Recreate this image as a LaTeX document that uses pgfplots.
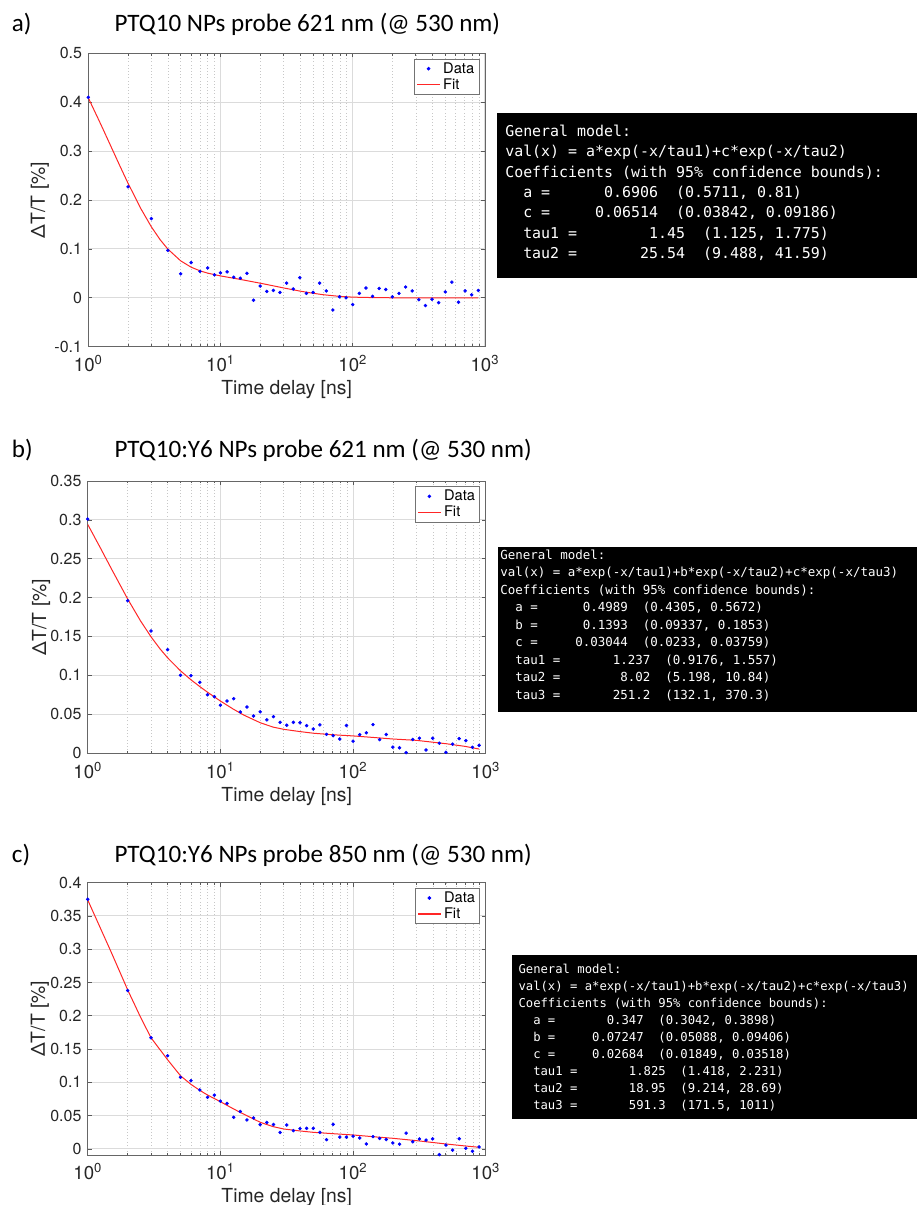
\documentclass[border=0pt]{standalone}
\usepackage{fontspec}
\setmainfont{TeX Gyre Heros}
\newfontfamily\titlefont{Carlito}
\newfontfamily\mono{DejaVu Sans Mono}
\usepackage{pgfplots}
\pgfplotsset{compat=1.18}
\definecolor{fitred}{rgb}{1,0.15,0.15}

\pgfplotsset{
    scale only axis,
    tick align=inside,
    major tick length=3pt,
    minor tick length=1.8pt,
    tick style={black!65, line width=0.5pt},
    axis line style={black!60, line width=0.6pt},
    xmajorgrids=true, ymajorgrids=true, xminorgrids=true,
    major grid style={black!14, line width=0.7pt},
    minor grid style={black!22, dotted, line width=0.4pt},
    /pgf/number format/assume math mode=true,
}
\pgfplotsset{
    xticklabel style={font=\fontsize{14}{14}\selectfont, text=black!85, anchor=base, yshift=-18.75pt, inner sep=0pt},
    yticklabel style={font=\fontsize{12}{12}\selectfont, text=black!85, anchor=east, xshift=-4.5pt, inner sep=0pt},
    label style={font=\fontsize{14.5}{14.5}\selectfont, text=black!85},
    xlabel style={at={(axis description cs:0.5,0)}, anchor=base, yshift=-36pt},
    legend style={at={(axis description cs:1,1)}, anchor=north east, xshift=-4.3pt, yshift=-4pt,
      draw=black!55, line width=0.5pt, fill=white, font=\fontsize{11}{11}\selectfont,
      inner xsep=1.5pt, inner ysep=0.5pt, row sep=-1.5pt},
    legend cell align=left,
}

\newcommand{\tline}[3]{\node[anchor=base west,inner sep=0pt,text=white,font=\mono\frenchspacing\fontsize{#1}{#1}\selectfont] at #2 {#3};}
\newcommand{\mylegend}{%
  \addlegendimage{only marks, mark=*, mark size=1.1pt, blue, mark options={draw=blue, fill=blue}}
  \addlegendentry{Data}
  \addlegendimage{draw=fitred, line width=0.9pt, no marks}
  \addlegendentry{Fit}}

\begin{document}
\begin{tikzpicture}
\useasboundingbox (0,0) rectangle (687.75pt,-903.75pt);

% ---------- titles ----------
\node[anchor=base west,inner sep=0pt,font=\titlefont\fontsize{18.8}{18.8}\selectfont] at (8.75pt,-23.75pt) {a)};
\node[anchor=base west,inner sep=0pt,font=\titlefont\fontsize{18.8}{18.8}\selectfont] at (85.75pt,-23.75pt) {PTQ10 NPs probe 621 nm (@ 530 nm)};
\node[anchor=base west,inner sep=0pt,font=\titlefont\fontsize{18.8}{18.8}\selectfont] at (8.75pt,-343pt) {b)};
\node[anchor=base west,inner sep=0pt,font=\titlefont\fontsize{18.8}{18.8}\selectfont] at (85.75pt,-343pt) {PTQ10:Y6 NPs probe 621 nm (@ 530 nm)};
\node[anchor=base west,inner sep=0pt,font=\titlefont\fontsize{18.8}{18.8}\selectfont] at (8.75pt,-646.7pt) {c)};
\node[anchor=base west,inner sep=0pt,font=\titlefont\fontsize{18.8}{18.8}\selectfont] at (85.75pt,-646.7pt) {PTQ10:Y6 NPs probe 850 nm (@ 530 nm)};

% ---------- axis a ----------
\begin{axis}[xmode=log, xmin=1, xmax=1000, xtick={1,10,100,1000},
  xticklabels={10\textsuperscript{0},10\textsuperscript{1},10\textsuperscript{2},10\textsuperscript{3}},
  at={(66.2pt,-40pt)}, anchor=north west, width=297.5pt, height=220pt,
  ymin=-0.1, ymax=0.5, ytick={-0.1,0,0.1,0.2,0.3,0.4,0.5},
  yticklabels={-0.1,0,0.1,0.2,0.3,0.4,0.5},
  xlabel={Time delay [ns]}, ylabel={ΔT/T [\%]},
  ylabel style={at={(axis description cs:-0.122,0.5)}, anchor=center}]
\mylegend
\addplot[forget plot, only marks, mark=*, mark size=1.1pt, blue, mark options={draw=blue, fill=blue}] coordinates {
(1,0.410) (2,0.227) (3,0.162) (4,0.097) (5,0.049) (6,0.072) (7,0.054) (8,0.061) (9,0.047) (10,0.051)
(11.22,0.053) (12.59,0.042) (14.13,0.040) (15.85,0.050) (17.78,-0.005) (19.95,0.024) (22.39,0.013)
(25.12,0.015) (28.18,0.011) (31.62,0.030) (35.48,0.018) (39.81,0.041) (44.67,0.009) (50.12,0.011)
(56.23,0.030) (63.10,0.014) (70.79,-0.025) (79.43,0.002) (89.13,0.000) (100,-0.014) (112.2,0.009)
(125.9,0.020) (141.3,0.003) (158.5,0.019) (177.8,0.017) (199.5,0.002) (223.9,0.009) (251.2,0.022)
(281.8,0.014) (316.2,-0.004) (354.8,-0.016) (398.1,-0.003) (446.7,-0.010) (501.2,0.012) (562.3,0.032)
(631.0,-0.009) (707.9,0.014) (794.3,0.006) (891.3,0.015)};
\addplot[forget plot, fitred, line width=0.75pt, no marks] coordinates {
(1,0.4091) (1.25,0.3536) (1.5,0.3069) (1.75,0.2674) (2,0.2341) (2.5,0.1822) (3,0.1451) (3.5,0.1186)
(4,0.0995) (5,0.0755) (6,0.0625) (7,0.0551) (8,0.0504) (10,0.0447) (12.5,0.0401) (15,0.0362)
(20,0.0298) (25,0.0245) (30,0.0201) (40,0.0136) (50,0.0092) (60,0.0062) (80,0.0028) (100,0.0013)
(150,0.0002) (200,0) (891.3,0)};
\end{axis}

% ---------- axis b ----------
\begin{axis}[xmode=log, xmin=1, xmax=1000, xtick={1,10,100,1000},
  xticklabels={10\textsuperscript{0},10\textsuperscript{1},10\textsuperscript{2},10\textsuperscript{3}},
  at={(65.8pt,-360.75pt)}, anchor=north west, width=298.5pt, height=204pt,
  ymin=0, ymax=0.35, ytick={0,0.05,0.1,0.15,0.2,0.25,0.3,0.35},
  yticklabels={0,0.05,0.1,0.15,0.2,0.25,0.3,0.35},
  xlabel={Time delay [ns]}, ylabel={ΔT/T [\%]},
  ylabel style={at={(axis description cs:-0.117,0.5)}, anchor=center}]
\mylegend
\addplot[forget plot, only marks, mark=*, mark size=1.1pt, blue, mark options={draw=blue, fill=blue}] coordinates {
(1,0.301) (2,0.196) (3,0.157) (4,0.133) (5,0.100) (6,0.0995) (7,0.091) (8,0.075) (9,0.0725) (10,0.0615)
(11.22,0.0669) (12.59,0.0699) (14.13,0.0528) (15.85,0.0592) (17.78,0.0476) (19.95,0.053) (22.39,0.0427)
(25.12,0.0468) (28.18,0.0395) (31.62,0.0358) (35.48,0.0395) (39.81,0.039) (44.67,0.0352) (50.12,0.0309)
(56.23,0.0362) (63.10,0.024) (70.79,0.0223) (79.43,0.018) (89.13,0.0354) (100,0.0152) (112.2,0.0236)
(125.9,0.026) (141.3,0.0365) (158.5,0.0172) (177.8,0.0238) (199.5,0.0075) (223.9,0.0067) (251.2,0.0005)
(281.8,0.0174) (316.2,0.019) (354.8,0.0039) (398.1,0.019) (446.7,0.0126) (501.2,0.0009) (562.3,0.0114)
(631.0,0.0185) (707.9,0.0159) (794.3,0.0073) (891.3,0.0099)};
\addplot[forget plot, fitred, line width=0.75pt, no marks] coordinates {
(1,0.2941) (1.25,0.2634) (1.5,0.2378) (2,0.1982) (2.5,0.1700) (3,0.1495) (3.5,0.1342) (4,0.1225)
(5,0.1058) (6,0.0942) (7,0.0854) (8,0.0782) (10,0.0669) (12.5,0.0565) (15,0.0488) (20,0.0389)
(25,0.0333) (30,0.0305) (40,0.0275) (50,0.0255) (70,0.0235) (100,0.022) (150,0.0197) (200,0.018)
(300,0.0163) (500,0.012) (700,0.0085) (891.3,0.0051)};
\end{axis}

% ---------- axis c ----------
\begin{axis}[xmode=log, xmin=1, xmax=1000, xtick={1,10,100,1000},
  xticklabels={10\textsuperscript{0},10\textsuperscript{1},10\textsuperscript{2},10\textsuperscript{3}},
  at={(65.8pt,-662pt)}, anchor=north west, width=298.5pt, height=204.2pt,
  ymin=-0.009, ymax=0.4, ytick={0,0.05,0.1,0.15,0.2,0.25,0.3,0.35,0.4},
  yticklabels={0,0.05,0.1,0.15,0.2,0.25,0.3,0.35,0.4},
  xlabel={Time delay [ns]}, ylabel={ΔT/T [\%]},
  ylabel style={at={(axis description cs:-0.12,0.5)}, anchor=center}]
\mylegend
\addplot[forget plot, only marks, mark=*, mark size=1.1pt, blue, mark options={draw=blue, fill=blue}] coordinates {
(1,0.375) (2,0.238) (3,0.167) (4,0.140) (5,0.1076) (6,0.1026) (7,0.0886) (8,0.0776) (9,0.0808) (10,0.0718)
(11.22,0.0684) (12.59,0.0476) (14.13,0.0563) (15.85,0.0436) (17.78,0.0466) (19.95,0.0365) (22.39,0.0398)
(25.12,0.0367) (28.18,0.0248) (31.62,0.036) (35.48,0.0275) (39.81,0.0305) (44.67,0.031) (50.12,0.031)
(56.23,0.025) (63.10,0.014) (70.79,0.037) (79.43,0.0178) (89.13,0.0178) (100,0.0192) (112.2,0.0165)
(125.9,0.0075) (141.3,0.0185) (158.5,0.0158) (177.8,0.0143) (199.5,0.009) (223.9,0.0072) (251.2,0.0238)
(281.8,0.0108) (316.2,0.015) (354.8,0.0133) (398.1,0.0152) (446.7,-0.0085) (501.2,0.0058) (562.3,-0.0018)
(631.0,0.0153) (707.9,0.001) (794.3,-0.0035) (891.3,0.003)};
\addplot[forget plot, fitred, line width=0.75pt, no marks] coordinates {
(1,0.374) (1.5,0.296) (2,0.239) (2.5,0.198) (3,0.167) (4,0.134) (5,0.110) (6,0.097) (7,0.088)
(8,0.081) (10,0.071) (12.6,0.060) (15.8,0.050) (20,0.040) (25,0.0335) (30,0.030) (40,0.027)
(50,0.025) (70,0.023) (100,0.021) (150,0.018) (200,0.016) (300,0.0125) (500,0.0075) (700,0.0045)
(891.3,0.0025)};
\end{axis}

% ---------- coefficient boxes ----------
\fill[black] (372.75pt,-84.75pt) rectangle (687.75pt,-208.5pt);
\tline{11.2}{(378.75pt,-102.5pt)}{General~model:}
\tline{11.2}{(378.75pt,-117.7pt)}{val(x)~=~a*exp(-x/tau1)+c*exp(-x/tau2)}
\tline{11.2}{(378.75pt,-132.9pt)}{Coefficients~(with~95\%~confidence~bounds):}
\tline{11.2}{(378.75pt,-148.2pt)}{~~a~=~~~~~~0.6906~~(0.5711,~0.81)}
\tline{11.2}{(378.75pt,-163.4pt)}{~~c~=~~~~~0.06514~~(0.03842,~0.09186)}
\tline{11.2}{(378.75pt,-178.6pt)}{~~tau1~=~~~~~~~~1.45~~(1.125,~1.775)}
\tline{11.2}{(378.75pt,-193.8pt)}{~~tau2~=~~~~~~~25.54~~(9.488,~41.59)}

\fill[black] (373.7pt,-410.5pt) rectangle (687.75pt,-533.8pt);
\tline{9.35}{(375pt,-419.25pt)}{General~model:}
\tline{9.35}{(375pt,-432.375pt)}{val(x)~=~a*exp(-x/tau1)+b*exp(-x/tau2)+c*exp(-x/tau3)}
\tline{9.35}{(375pt,-445.5pt)}{Coefficients~(with~95\%~confidence~bounds):}
\tline{9.35}{(375pt,-458.625pt)}{~~a~=~~~~~~0.4989~~(0.4305,~0.5672)}
\tline{9.35}{(375pt,-471.75pt)}{~~b~=~~~~~~0.1393~~(0.09337,~0.1853)}
\tline{9.35}{(375pt,-484.875pt)}{~~c~=~~~~~0.03044~~(0.0233,~0.03759)}
\tline{9.35}{(375pt,-498pt)}{~~tau1~=~~~~~~~1.237~~(0.9176,~1.557)}
\tline{9.35}{(375pt,-511.125pt)}{~~tau2~=~~~~~~~~8.02~~(5.198,~10.84)}
\tline{9.35}{(375pt,-524.25pt)}{~~tau3~=~~~~~~~251.2~~(132.1,~370.3)}

\fill[black] (383.8pt,-716.25pt) rectangle (687.75pt,-839.25pt);
\tline{9.17}{(388.7pt,-730pt)}{General~model:}
\tline{9.17}{(388.7pt,-742.8pt)}{val(x)~=~a*exp(-x/tau1)+b*exp(-x/tau2)+c*exp(-x/tau3)}
\tline{9.17}{(388.7pt,-755.6pt)}{Coefficients~(with~95\%~confidence~bounds):}
\tline{9.17}{(388.7pt,-768.4pt)}{~~a~=~~~~~~~0.347~~(0.3042,~0.3898)}
\tline{9.17}{(388.7pt,-781.2pt)}{~~b~=~~~~~0.07247~~(0.05088,~0.09406)}
\tline{9.17}{(388.7pt,-794pt)}{~~c~=~~~~~0.02684~~(0.01849,~0.03518)}
\tline{9.17}{(388.7pt,-806.8pt)}{~~tau1~=~~~~~~~1.825~~(1.418,~2.231)}
\tline{9.17}{(388.7pt,-819.6pt)}{~~tau2~=~~~~~~~18.95~~(9.214,~28.69)}
\tline{9.17}{(388.7pt,-832.4pt)}{~~tau3~=~~~~~~~591.3~~(171.5,~1011)}

\end{tikzpicture}
\end{document}
